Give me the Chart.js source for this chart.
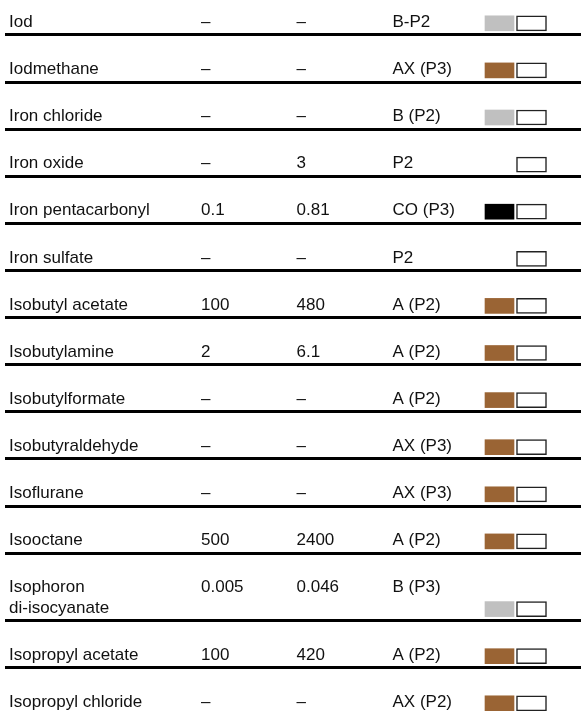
<!DOCTYPE html>
<html>
<head>
<meta charset="utf-8">
<script src="https://cdn.jsdelivr.net/npm/chart.js@4/dist/chart.umd.min.js"></script>
<style>
    html, body { margin: 0; padding: 0; background: #fff; }
    #wrap { width: 581px; height: 711px; position: relative; }
</style>
</head>
<body>
<div id="wrap"><canvas id="filter-chart"></canvas></div>
<script>
// table rows
const substances = ['Iod', 'Iodmethane', 'Iron chloride', 'Iron oxide', 'Iron pentacarbonyl', 'Iron sulfate',
    'Isobutyl acetate', 'Isobutylamine', 'Isobutylformate', 'Isobutyraldehyde', 'Isoflurane', 'Isooctane',
    'Isophoron\ndi-isocyanate', 'Isopropyl acetate', 'Isopropyl chloride'];
const ppmValues = ['–', '–', '–', '–', '0.1', '–', '100', '2', '–', '–', '–', '500', '0.005', '100', '–'];
const mgValues = ['–', '–', '–', '3', '0.81', '–', '480', '6.1', '–', '–', '–', '2400', '0.046', '420', '–'];
const filterTypes = ['B-P2', 'AX (P3)', 'B (P2)', 'P2', 'CO (P3)', 'P2', 'A (P2)', 'A (P2)', 'A (P2)',
    'AX (P3)', 'AX (P3)', 'A (P2)', 'B (P3)', 'A (P2)', 'AX (P2)'];
const filterColours = ['#c0c0c0', '#9a6434', '#c0c0c0', null, '#000000', null, '#9a6434', '#9a6434', '#9a6434',
    '#9a6434', '#9a6434', '#9a6434', '#c0c0c0', '#9a6434', '#9a6434'];

// layout (row units: one plain row = 1)
const ROW_PX = 47.1;
const LINE_PX = 20.6;
const FONT = '17px "Liberation Sans", Arial, sans-serif';

const lineCounts = substances.map(s => s.split('\n').length);
let acc = 0;
const rowBottoms = lineCounts.map(n => {
    acc += 1 + (n - 1) * LINE_PX / ROW_PX;
    return acc;
});

const colourBars = [];
const outlineBars = [];
rowBottoms.forEach((b, i) => {
    const y = b - 11.7 / ROW_PX;
    colourBars.push({x: filterColours[i] ? [480, 509] : null, y: y});
    outlineBars.push({x: [511.5, 541.5], y: y});
});

const tableText = {
    id: 'tableText',
    afterDatasetsDraw(chart) {
        const ctx = chart.ctx;
        const xs = chart.scales.x;
        const ys = chart.scales.y;
        ctx.save();
        ctx.font = FONT;
        ctx.fillStyle = '#111';
        ctx.textBaseline = 'alphabetic';
        ctx.textAlign = 'left';
        substances.forEach((name, i) => {
            const lastBase = ys.getPixelForValue(rowBottoms[i]) - 8;
            const lines = name.split('\n');
            const firstBase = lastBase - (lines.length - 1) * LINE_PX;
            lines.forEach((t, j) => {
                ctx.fillText(t, xs.getPixelForValue(4), firstBase + j * LINE_PX);
            });
            ctx.fillText(ppmValues[i], xs.getPixelForValue(196), firstBase);
            ctx.fillText(mgValues[i], xs.getPixelForValue(291.5), firstBase);
            ctx.fillText(filterTypes[i], xs.getPixelForValue(387.5), firstBase);
        });
        ctx.restore();
    }
};

const ctx = document.getElementById('filter-chart').getContext('2d');
new Chart(ctx, {
    type: 'bar',
    data: {
        datasets: [
            {
                label: 'Filter colour',
                data: colourBars,
                backgroundColor: filterColours.map(c => c || 'rgba(0,0,0,0)'),
                borderWidth: 0,
                barThickness: 15,
                grouped: false
            },
            {
                label: 'Filter',
                data: outlineBars,
                backgroundColor: '#ffffff',
                borderColor: '#222222',
                borderWidth: 1.5,
                borderSkipped: false,
                barThickness: 15,
                grouped: false
            }
        ]
    },
    options: {
        indexAxis: 'y',
        responsive: true,
        maintainAspectRatio: false,
        animation: false,
        layout: {padding: {left: 5, right: 0, top: 0, bottom: 0}},
        plugins: {
            legend: {display: false},
            tooltip: {enabled: false}
        },
        scales: {
            x: {
                type: 'linear',
                display: false,
                min: 0,
                max: 576
            },
            y: {
                type: 'linear',
                reverse: true,
                offset: false,
                min: 1 - 35 / ROW_PX,
                max: 1 + 676 / ROW_PX,
                border: {display: false},
                ticks: {display: false},
                grid: {color: '#000', lineWidth: 3, drawTicks: false, offset: false},
                afterBuildTicks: (scale) => {
                    scale.ticks = rowBottoms.map(v => ({value: v}));
                }
            }
        }
    },
    plugins: [tableText]
});
</script>
</body>
</html>
